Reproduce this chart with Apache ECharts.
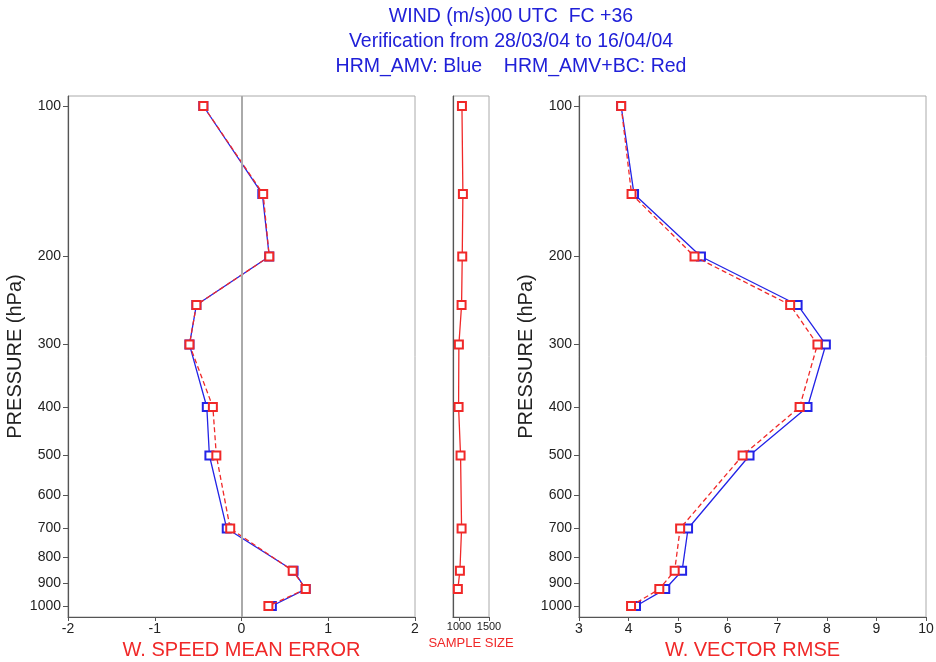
<!DOCTYPE html>
<html><head><meta charset="utf-8">
<script src="https://cdn.jsdelivr.net/npm/echarts@6/dist/echarts.min.js"></script>
<style>html,body{margin:0;padding:0;background:#fff}#c{width:936px;height:662px}</style>
</head><body><div id="c"></div>
<script>
const levels = [100, 150, 200, 250, 300, 400, 500, 700, 850, 925, 1000];
const pressureTicks = [100, 200, 300, 400, 500, 600, 700, 800, 900, 1000];
const meBlue = [-0.44, 0.24, 0.32, -0.52, -0.60, -0.40, -0.37, -0.17, 0.60, 0.74, 0.35];
const meRed  = [-0.44, 0.25, 0.32, -0.52, -0.60, -0.33, -0.29, -0.13, 0.59, 0.74, 0.31];
const sampleSize = [1049, 1065, 1054, 1043, 998, 993, 1026, 1043, 1015, 981, null];
const rmseBlue = [3.85, 4.11, 5.46, 7.41, 7.98, 7.61, 6.44, 5.20, 5.08, 4.74, 4.15];
const rmseRed  = [3.85, 4.06, 5.33, 7.26, 7.81, 7.45, 6.30, 5.04, 4.93, 4.62, 4.05];
const sampleTicks = [1000, 1500];
const titleLines = ['WIND (m/s)00 UTC  FC +36', 'Verification from 28/03/04 to 16/04/04', 'HRM_AMV: Blue    HRM_AMV+BC: Red'];

const FONT = 'Liberation Sans, Arial, sans-serif';
const BLUE = '#2323e6';
const RED = '#f02828';
const plain = (v) => String(v);
const pairs = (vals) => vals.map((v, i) => v == null ? null : [v, levels[i]]).filter(d => d);

const chart = echarts.init(document.getElementById('c'), null, {renderer: 'canvas'});

const grids = [
  {left: 68, right: 521, top: 96, bottom: 45},
  {left: 453, right: 447, top: 96, bottom: 45},
  {left: 579, right: 10, top: 96, bottom: 45}
];

function yAxis(idx, showLabels) {
  return {
    type: 'log', logBase: 10, gridIndex: idx, inverse: true, min: 95.5, max: 1052,
    name: showLabels ? 'PRESSURE (hPa)' : '', nameLocation: 'middle', nameGap: 40,
    nameTextStyle: {fontFamily: FONT, fontSize: 20, color: '#222'},
    axisLine: {show: true, onZero: false, lineStyle: {color: '#555', width: 1.2}},
    axisTick: {show: showLabels, length: 5, customValues: pressureTicks, lineStyle: {color: '#555'}},
    axisLabel: {show: showLabels, customValues: pressureTicks, formatter: plain, fontFamily: FONT, fontSize: 14, color: '#222', margin: 7},
    splitLine: {show: false}, minorTick: {show: false}
  };
}

function xAxis(idx, opts) {
  return Object.assign({
    type: 'value', gridIndex: idx, nameLocation: 'middle',
    axisLine: {show: true, onZero: false, lineStyle: {color: '#555', width: 1.2}},
    axisTick: {show: true, length: 4, lineStyle: {color: '#555'}},
    axisLabel: {fontFamily: FONT, fontSize: 14, color: '#222', margin: 5},
    splitLine: {show: false}
  }, opts);
}

const lineBlue = (xi, data) => ({
  type: 'line', xAxisIndex: xi, yAxisIndex: xi, data: data, symbol: 'emptyRect', symbolSize: 8,
  lineStyle: {color: BLUE, width: 1.3}, itemStyle: {color: BLUE, borderWidth: 1.2}, z: 3, animation: false
});
const lineRed = (xi, data, dashed) => ({
  type: 'line', xAxisIndex: xi, yAxisIndex: xi, data: data, symbol: 'emptyRect', symbolSize: 8,
  lineStyle: {color: RED, width: 1.3, type: dashed ? [5, 3] : 'solid'}, itemStyle: {color: RED, borderWidth: 1.2}, z: 4, animation: false
});

chart.setOption({
  animation: false,
  backgroundColor: '#fff',
  grid: grids.map(g => Object.assign({show: true, borderColor: '#aaa', borderWidth: 1, backgroundColor: 'transparent', containLabel: false, outerBoundsMode: 'none'}, g)),
  xAxis: [
    xAxis(0, {min: -2, max: 2, interval: 1, name: 'W. SPEED MEAN ERROR', nameGap: 21,
      nameTextStyle: {fontFamily: FONT, fontSize: 20, color: RED}}),
    xAxis(1, {min: 900, max: 1500, name: 'SAMPLE SIZE', nameGap: 17,
      nameTextStyle: {fontFamily: FONT, fontSize: 13, color: RED},
      axisTick: {show: true, length: 4, customValues: sampleTicks, lineStyle: {color: '#555'}},
      axisLabel: {customValues: sampleTicks, formatter: plain, fontFamily: FONT, fontSize: 11, color: '#222', margin: 4}}),
    xAxis(2, {min: 3, max: 10, interval: 1, name: 'W. VECTOR RMSE', nameGap: 21,
      nameTextStyle: {fontFamily: FONT, fontSize: 20, color: RED}})
  ],
  yAxis: [yAxis(0, true), yAxis(1, false), yAxis(2, true)],
  series: [
    {type: 'line', xAxisIndex: 0, yAxisIndex: 0, data: [], z: 1,
      markLine: {silent: true, symbol: 'none', label: {show: false}, animation: false,
        lineStyle: {color: '#aaa', width: 2, type: 'solid'}, data: [{xAxis: 0}]}},
    lineBlue(0, pairs(meBlue)),
    lineRed(0, pairs(meRed), true),
    lineRed(1, pairs(sampleSize), false),
    lineBlue(2, pairs(rmseBlue)),
    lineRed(2, pairs(rmseRed), true)
  ],
  graphic: titleLines.map((t, i) => ({
    type: 'text', x: 511, y: 17 + i * 25,
    style: {text: t, fill: '#2020d8', font: '19.5px ' + FONT, align: 'center', verticalAlign: 'middle'}
  }))
});
</script></body></html>
